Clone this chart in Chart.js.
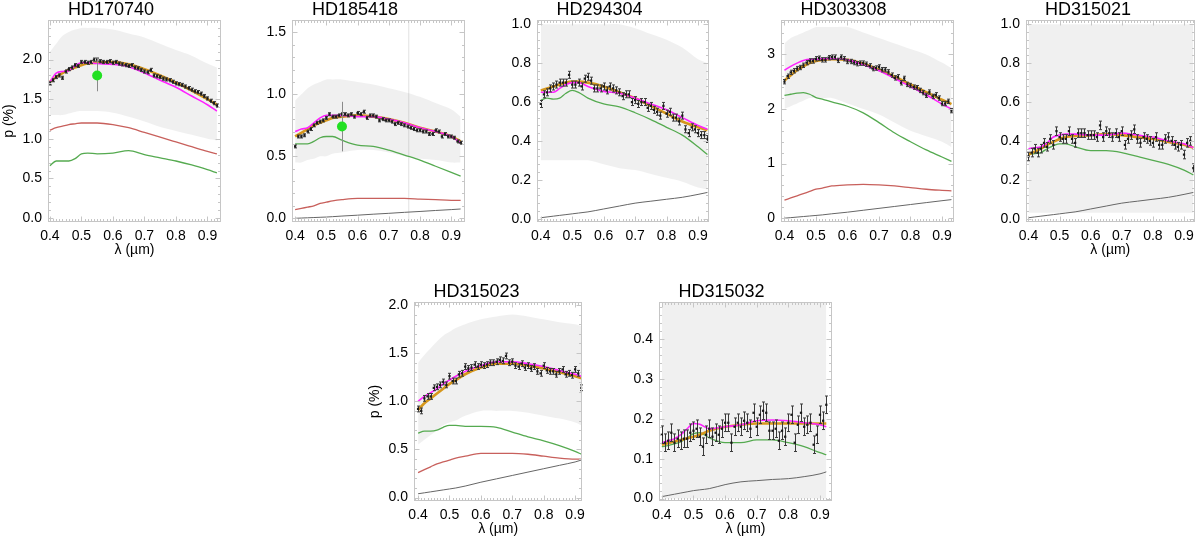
<!DOCTYPE html>
<html><head><meta charset="utf-8">
<script src="https://cdn.jsdelivr.net/npm/chart.js@4.4.1/dist/chart.umd.min.js"></script>
<style>
html,body{margin:0;padding:0;background:#fff;}
body{width:1200px;height:542px;overflow:hidden;position:relative;}
canvas{position:absolute;}
</style></head><body>
<script>
// ---------- DATA ----------
// binned wavelengths (µm)
const binWl = [0.40,0.41,0.42,0.43,0.44,0.45,0.46,0.47,0.48,0.49,0.50,0.51,0.52,0.53,0.54,0.55,0.56,0.57,0.58,0.59,
  0.60,0.61,0.62,0.63,0.64,0.65,0.66,0.67,0.68,0.69,0.70,0.71,0.72,0.73,0.74,0.75,0.76,0.77,0.78,0.79,
  0.80,0.81,0.82,0.83,0.84,0.85,0.86,0.87,0.88,0.89,0.90,0.91,0.92,0.93];
// model-curve wavelengths (µm)
const modelWl   = [0.40,0.42,0.44,0.46,0.48,0.50,0.52,0.55,0.60,0.65,0.70,0.75,0.80,0.85,0.90,0.93];
const modelWl92 = [0.40,0.42,0.44,0.46,0.48,0.50,0.52,0.55,0.60,0.65,0.70,0.75,0.80,0.85,0.90,0.92];
const xTickVals = [0.4,0.5,0.6,0.7,0.8,0.9];

// HD170740
const hd170740_bin = [1.70,1.74,1.78,1.80,1.77,1.85,1.88,1.90,1.93,1.92,1.97,1.97,1.96,1.97,2.00,2.00,1.98,1.97,1.97,1.98,
  1.96,1.97,1.95,1.94,1.93,1.92,1.93,1.90,1.89,1.87,1.85,1.84,1.87,1.80,1.79,1.78,1.76,1.75,1.74,1.72,
  1.70,1.69,1.68,1.66,1.64,1.62,1.60,1.59,1.57,1.54,1.51,1.48,1.45,1.42];
const hd170740_err = 0.02;
const hd170740_magenta = [1.72,1.83,1.85,1.86,1.92,1.96,1.96,1.95,1.94,1.91,1.83,1.74,1.65,1.54,1.43,1.35];
const hd170740_orange  = [1.72,1.78,1.83,1.87,1.90,1.93,1.95,1.96,1.97,1.94,1.88,1.80,1.71,1.61,1.50,1.43];
const hd170740_red     = [1.11,1.14,1.16,1.18,1.19,1.20,1.20,1.20,1.18,1.14,1.08,1.02,0.96,0.90,0.84,0.81];
const hd170740_green   = [0.66,0.72,0.72,0.72,0.75,0.81,0.82,0.81,0.82,0.85,0.80,0.76,0.72,0.67,0.61,0.57];
const hd170740_noiseLo = [1.30,1.30,1.30,1.32,1.34,1.35,1.35,1.35,1.33,1.28,1.22,1.15,1.10,1.05,1.00,0.98];
const hd170740_noiseHi = [2.10,2.20,2.30,2.35,2.38,2.40,2.40,2.40,2.38,2.33,2.28,2.20,2.12,2.05,1.95,1.90];
const hd170740_dot = {x:[0.55], y:[1.80], lo:[1.60], hi:[2.02]};

// HD185418
const hd185418_bin = [0.58,0.66,0.66,0.67,0.70,0.72,0.75,0.77,0.78,0.79,0.81,0.84,0.82,0.82,0.83,0.84,0.84,0.83,0.84,0.82,
  0.85,0.84,0.86,0.81,0.83,0.83,0.82,0.79,0.80,0.79,0.79,0.78,0.76,0.77,0.76,0.75,0.74,0.73,0.72,0.71,
  0.71,0.70,0.70,0.68,0.68,0.71,0.70,0.66,0.68,0.66,0.66,0.65,0.62,0.61];
const hd185418_err = 0.012;
const hd185418_magenta = [0.70,0.72,0.73,0.77,0.81,0.83,0.83,0.83,0.82,0.82,0.80,0.77,0.73,0.70,0.66,0.61];
const hd185418_orange  = [0.66,0.69,0.72,0.75,0.77,0.79,0.81,0.82,0.83,0.82,0.80,0.77,0.73,0.70,0.66,0.62];
const hd185418_green   = [0.60,0.60,0.60,0.62,0.65,0.66,0.66,0.63,0.59,0.58,0.55,0.51,0.47,0.42,0.37,0.34];
const hd185418_red     = [0.07,0.08,0.09,0.10,0.12,0.13,0.14,0.15,0.16,0.16,0.16,0.16,0.155,0.15,0.145,0.145];
const hd185418_gray    = [0.0,0.002,0.004,0.006,0.008,0.01,0.013,0.018,0.025,0.033,0.04,0.048,0.055,0.063,0.07,0.075];
const hd185418_noiseLo = [0.45,0.45,0.47,0.48,0.50,0.50,0.52,0.53,0.55,0.55,0.53,0.50,0.48,0.47,0.45,0.45];
const hd185418_noiseHi = [0.95,1.00,1.05,1.08,1.10,1.12,1.12,1.12,1.10,1.08,1.05,1.02,0.98,0.93,0.88,0.82];
const hd185418_dot = {x:[0.55], y:[0.74], lo:[0.54], hi:[0.94]};
const hd185418_spike = {x:[0.764,0.764], y:[-0.03,1.6]};

// HD294304
const hd294304_bin = [0.59,0.64,0.65,0.67,0.68,0.69,0.70,0.70,0.70,0.74,0.69,0.69,0.70,0.68,0.72,0.73,0.71,0.67,0.67,0.67,
  0.68,0.66,0.68,0.67,0.66,0.65,0.63,0.64,0.64,0.60,0.61,0.59,0.60,0.60,0.57,0.58,0.56,0.55,0.53,0.58,
  0.54,0.55,0.52,0.52,0.50,0.53,0.46,0.44,0.47,0.46,0.44,0.43,0.43,0.41];
const hd294304_err = 0.018;
const hd294304_magenta = [0.65,0.65,0.65,0.67,0.69,0.70,0.70,0.68,0.655,0.645,0.62,0.59,0.56,0.52,0.48,0.46];
const hd294304_orange  = [0.66,0.67,0.68,0.69,0.70,0.705,0.705,0.70,0.68,0.65,0.62,0.58,0.54,0.50,0.47,0.455];
const hd294304_green   = [0.61,0.62,0.615,0.62,0.645,0.66,0.65,0.62,0.59,0.575,0.545,0.51,0.47,0.43,0.37,0.33];
const hd294304_gray    = [0.005,0.009,0.013,0.017,0.021,0.025,0.029,0.035,0.05,0.065,0.08,0.09,0.10,0.11,0.125,0.135];
const hd294304_noiseLo = [0.30,0.30,0.30,0.30,0.30,0.30,0.30,0.30,0.28,0.26,0.25,0.23,0.21,0.19,0.16,0.15];
const hd294304_noiseHi = [1.00,1.00,1.00,1.00,1.00,1.00,1.00,1.00,1.00,1.00,0.98,0.95,0.92,0.88,0.82,0.80];

// HD303308
const hd303308_bin = [2.50,2.60,2.67,2.70,2.74,2.76,2.80,2.85,2.88,2.88,2.92,2.93,2.90,2.90,2.94,2.95,2.95,2.89,2.95,2.92,
  2.87,2.87,2.85,2.83,2.84,2.84,2.82,2.79,2.74,2.75,2.77,2.72,2.72,2.68,2.62,2.57,2.59,2.48,2.56,2.45,
  2.43,2.40,2.39,2.34,2.30,2.25,2.31,2.23,2.26,2.20,2.10,2.10,2.14,1.97];
const hd303308_err = 0.04;
const hd303308_magenta = [2.71,2.78,2.84,2.89,2.91,2.91,2.92,2.92,2.90,2.81,2.70,2.56,2.41,2.26,2.09,2.00];
const hd303308_orange  = [2.52,2.62,2.71,2.78,2.84,2.88,2.90,2.91,2.90,2.83,2.72,2.59,2.45,2.31,2.17,2.09];
const hd303308_green   = [2.25,2.27,2.29,2.30,2.27,2.21,2.18,2.13,2.05,1.93,1.75,1.56,1.40,1.25,1.12,1.04];
const hd303308_red     = [0.33,0.37,0.41,0.45,0.49,0.53,0.55,0.59,0.61,0.62,0.61,0.59,0.56,0.53,0.51,0.50];
const hd303308_gray    = [0.0,0.01,0.02,0.03,0.04,0.05,0.06,0.08,0.11,0.145,0.18,0.215,0.25,0.285,0.32,0.34];
const hd303308_noiseLo = [2.00,2.05,2.10,2.15,2.20,2.20,2.20,2.20,2.10,2.00,1.90,1.75,1.60,1.50,1.40,1.30];
const hd303308_noiseHi = [3.20,3.30,3.35,3.40,3.45,3.50,3.50,3.50,3.50,3.40,3.30,3.20,3.10,3.00,2.85,2.75];

// HD315021
const hd315021_bin = [0.32,0.34,0.36,0.34,0.36,0.39,0.37,0.41,0.38,0.45,0.42,0.41,0.41,0.45,0.41,0.39,0.44,0.44,0.44,0.43,
  0.43,0.43,0.42,0.48,0.42,0.45,0.44,0.42,0.44,0.42,0.45,0.38,0.41,0.43,0.46,0.41,0.39,0.42,0.41,0.40,
  0.39,0.42,0.38,0.38,0.41,0.42,0.40,0.38,0.37,0.38,0.33,0.39,0.40,0.26];
const hd315021_err = 0.022;
const hd315021_magenta = [0.36,0.365,0.37,0.39,0.42,0.43,0.435,0.435,0.43,0.43,0.44,0.43,0.42,0.40,0.385,0.365];
const hd315021_orange  = [0.33,0.345,0.36,0.38,0.395,0.41,0.42,0.425,0.43,0.435,0.43,0.42,0.41,0.395,0.38,0.365];
const hd315021_green   = [0.33,0.335,0.34,0.36,0.375,0.385,0.385,0.37,0.35,0.35,0.34,0.32,0.30,0.28,0.25,0.225];
const hd315021_gray    = [0.005,0.009,0.013,0.017,0.021,0.025,0.029,0.035,0.05,0.065,0.08,0.09,0.10,0.11,0.125,0.135];
const hd315021_noiseLo = [0.03,0.03,0.03,0.03,0.03,0.03,0.03,0.03,0.03,0.03,0.03,0.03,0.03,0.03,0.03,0.03];
const hd315021_noiseHi = [1.00,1.00,1.00,1.00,1.00,1.00,1.00,1.00,1.00,1.00,1.00,1.00,1.00,1.00,1.00,1.00];

// HD315023
const hd315023_bin = [0.92,0.90,1.03,1.05,1.05,1.14,1.15,1.17,1.20,1.17,1.26,1.21,1.21,1.28,1.29,1.36,1.34,1.35,1.38,1.36,
  1.38,1.37,1.38,1.40,1.40,1.41,1.43,1.42,1.47,1.40,1.41,1.37,1.36,1.39,1.35,1.37,1.34,1.36,1.31,1.29,
  1.37,1.32,1.31,1.31,1.28,1.31,1.33,1.28,1.29,1.27,1.33,1.29,1.14];
const hd315023_err = 0.03;
const hd315023_magenta = [1.00,1.05,1.09,1.13,1.18,1.22,1.26,1.31,1.37,1.41,1.41,1.39,1.36,1.32,1.28,1.26];
const hd315023_orange  = [0.91,0.98,1.03,1.08,1.13,1.18,1.22,1.28,1.35,1.39,1.39,1.37,1.34,1.30,1.26,1.24];
const hd315023_green   = [0.67,0.69,0.69,0.70,0.73,0.75,0.75,0.74,0.74,0.73,0.68,0.63,0.59,0.54,0.48,0.45];
const hd315023_red     = [0.26,0.29,0.32,0.35,0.37,0.39,0.41,0.43,0.46,0.46,0.46,0.45,0.43,0.41,0.40,0.40];
const hd315023_gray    = [0.04,0.05,0.06,0.07,0.08,0.09,0.10,0.12,0.16,0.195,0.23,0.265,0.30,0.335,0.37,0.39];
const hd315023_noiseLo = [0.55,0.60,0.65,0.70,0.75,0.78,0.80,0.85,0.90,0.90,0.90,0.88,0.85,0.82,0.78,0.75];
const hd315023_noiseHi = [1.40,1.48,1.55,1.62,1.68,1.72,1.76,1.80,1.85,1.88,1.90,1.88,1.85,1.82,1.80,1.78];

// HD315032
const hd315032_bin = [0.16,0.14,0.145,0.165,0.14,0.15,0.145,0.15,0.15,0.165,0.17,0.175,0.155,0.13,0.16,0.175,0.155,0.165,0.16,0.175,
  0.19,0.19,0.14,0.18,0.19,0.18,0.195,0.19,0.175,0.215,0.18,0.21,0.22,0.215,0.17,0.17,0.175,0.145,0.17,0.155,
  0.19,0.21,0.14,0.185,0.215,0.18,0.185,0.19,0.135,0.16,0.21,0.195,0.235];
const hd315032_err = 0.022;
const hd315032_magenta = [0.14,0.145,0.15,0.16,0.175,0.188,0.186,0.175,0.18,0.185,0.195,0.197,0.195,0.19,0.185,0.18];
const hd315032_orange  = [0.135,0.139,0.143,0.147,0.151,0.155,0.16,0.17,0.18,0.185,0.188,0.188,0.188,0.188,0.188,0.188];
const hd315032_green   = [0.13,0.133,0.137,0.142,0.152,0.163,0.165,0.152,0.14,0.14,0.147,0.147,0.14,0.13,0.115,0.11];
const hd315032_gray    = [0.005,0.008,0.011,0.014,0.017,0.02,0.022,0.025,0.035,0.042,0.045,0.048,0.05,0.055,0.062,0.067];
const hd315032_noiseLo = [0,0,0,0,0,0,0,0,0,0,0,0,0,0,0,0];
const hd315032_noiseHi = [0.49,0.49,0.49,0.49,0.49,0.49,0.49,0.49,0.49,0.49,0.49,0.49,0.49,0.49,0.49,0.49];

// y tick labels
const yTicks_hd170740 = [0.0,0.5,1.0,1.5,2.0];
const yTicks_hd185418 = [0.0,0.5,1.0,1.5];
const yTicks_hd294304 = [0.0,0.2,0.4,0.6,0.8,1.0];
const yTicks_hd303308 = [0,1,2,3];
const yTicks_hd315021 = [0.0,0.2,0.4,0.6,0.8,1.0];
const yTicks_hd315023 = [0.0,0.5,1.0,1.5,2.0];
const yTicks_hd315032 = [0.0,0.1,0.2,0.3,0.4];

// ---------- LAYOUT / STYLE ----------
const FONT = "'Liberation Sans', Arial, Helvetica, sans-serif";
const TITLE_H = 22, YW = 48, XH = 37;
const C = {magenta:'#ff22ff', orange:'#d6971c', red:'#c8605c', green:'#55aa50', gray:'#666666',
           noise:'rgba(0,0,0,0.058)', pts:'#1a1a1a', err:'#3a3a3a', dot:'#22e022'};

const panels = [
 {name:'HD170740', box:[48,20,222,222], x:[0.394,0.943], y:[-0.05,2.5], yt:yTicks_hd170740, fmt:1, ylab:true, xlab:true,
  wl:modelWl, bin:hd170740_bin, err:hd170740_err, mag:hd170740_magenta, ora:hd170740_orange, red:hd170740_red, grn:hd170740_green, gry:null,
  lo:hd170740_noiseLo, hi:hd170740_noiseHi, dot:hd170740_dot},
 {name:'HD185418', box:[292,20,466,222], x:[0.39,0.944], y:[-0.03,1.6], yt:yTicks_hd185418, fmt:1, ylab:false, xlab:false,
  wl:modelWl, bin:hd185418_bin, err:hd185418_err, mag:hd185418_magenta, ora:hd185418_orange, red:hd185418_red, grn:hd185418_green, gry:hd185418_gray,
  lo:hd185418_noiseLo, hi:hd185418_noiseHi, dot:hd185418_dot, spike:hd185418_spike},
 {name:'HD294304', box:[537,20,710,222], x:[0.388,0.934], y:[-0.017,1.022], yt:yTicks_hd294304, fmt:1, ylab:false, xlab:false,
  wl:modelWl, bin:hd294304_bin, err:hd294304_err, mag:hd294304_magenta, ora:hd294304_orange, red:null, grn:hd294304_green, gry:hd294304_gray,
  lo:hd294304_noiseLo, hi:hd294304_noiseHi},
 {name:'HD303308', box:[781,20,954,222], x:[0.389,0.937], y:[-0.07,3.63], yt:yTicks_hd303308, fmt:0, ylab:false, xlab:false,
  wl:modelWl, bin:hd303308_bin, err:hd303308_err, mag:hd303308_magenta, ora:hd303308_orange, red:hd303308_red, grn:hd303308_green, gry:hd303308_gray,
  lo:hd303308_noiseLo, hi:hd303308_noiseHi},
 {name:'HD315021', box:[1026,20,1198,222], x:[0.392,0.934], y:[-0.017,1.022], yt:yTicks_hd315021, fmt:1, ylab:false, xlab:true, padR:2,
  wl:modelWl, bin:hd315021_bin, err:hd315021_err, mag:hd315021_magenta, ora:hd315021_orange, red:null, grn:hd315021_green, gry:hd315021_gray,
  lo:hd315021_noiseLo, hi:hd315021_noiseHi},
 {name:'HD315023', box:[414,302,587,501], x:[0.387,0.923], y:[-0.035,2.03], yt:yTicks_hd315023, fmt:1, ylab:true, xlab:true,
  wl:modelWl92, bin:hd315023_bin, err:hd315023_err, mag:hd315023_magenta, ora:hd315023_orange, red:hd315023_red, grn:hd315023_green, gry:hd315023_gray,
  lo:hd315023_noiseLo, hi:hd315023_noiseHi},
 {name:'HD315032', box:[659,302,832,501], x:[0.391,0.938], y:[-0.006,0.4925], yt:yTicks_hd315032, fmt:1, ylab:false, xlab:true,
  wl:modelWl92, bin:hd315032_bin, err:hd315032_err, mag:hd315032_magenta, ora:hd315032_orange, red:null, grn:hd315032_green, gry:hd315032_gray,
  lo:hd315032_noiseLo, hi:hd315032_noiseHi}
];

// ---------- PLUGINS ----------
const errorBars = {
  id:'errorBars',
  beforeDatasetDraw(chart, args){
    const ds = chart.data.datasets[args.index];
    if(!ds.errLo) return;
    const {ctx, scales:{x,y}} = chart;
    ctx.save();
    ctx.strokeStyle = ds.errColor; ctx.lineWidth = 1;
    ds.data.forEach((p,j)=>{
      const px = Math.round(x.getPixelForValue(p.x)) + 0.5;
      const y1 = y.getPixelForValue(ds.errLo[j]), y2 = y.getPixelForValue(ds.errHi[j]);
      ctx.beginPath(); ctx.moveTo(px,y1); ctx.lineTo(px,y2);
      if(ds.cap){ ctx.moveTo(px-ds.cap,y1); ctx.lineTo(px+ds.cap,y1); ctx.moveTo(px-ds.cap,y2); ctx.lineTo(px+ds.cap,y2); }
      ctx.stroke();
    });
    ctx.restore();
  }
};
const frame = {
  id:'frame',
  afterDraw(chart){
    const {ctx, chartArea:a, scales:{x,y}} = chart;
    const L = Math.round(a.left)+0.5, R = Math.round(a.right)-0.5, T = Math.round(a.top)+0.5, B = Math.round(a.bottom)-0.5;
    ctx.save();
    ctx.strokeStyle = '#c6c6c6'; ctx.lineWidth = 1;
    ctx.strokeRect(L, T, R-L, B-T);
    ctx.beginPath();
    const xt = x.ticks.map(t=>t.value), xs = (xt[1]-xt[0])/10;
    for(let k = Math.ceil((x.min-xt[0])/xs); xt[0]+k*xs <= x.max; k++){
      const v = xt[0]+k*xs, len = (k%10===0)?5:2.5;
      const px = Math.round(x.getPixelForValue(v))+0.5;
      ctx.moveTo(px,B); ctx.lineTo(px,B-len); ctx.moveTo(px,T); ctx.lineTo(px,T+len);
    }
    const yt = y.ticks.map(t=>t.value), ys = (yt[1]-yt[0])/5;
    for(let k = Math.ceil((y.min-yt[0])/ys); yt[0]+k*ys <= y.max; k++){
      const v = yt[0]+k*ys, len = (k%5===0)?5:2.5;
      const py = Math.round(y.getPixelForValue(v))+0.5;
      ctx.moveTo(L,py); ctx.lineTo(L+len,py); ctx.moveTo(R,py); ctx.lineTo(R-len,py);
    }
    ctx.stroke();
    ctx.restore();
  }
};

// ---------- BUILD ----------
const pairs = (xs, ys) => ys.map((v,i)=>({x:xs[i], y:v}));
const lineDs = (xs, ys, color, w, order) => ({data:pairs(xs,ys), showLine:true, borderColor:color, borderWidth:w,
   pointRadius:0, fill:false, tension:0.4, cubicInterpolationMode:'monotone', order});

panels.forEach(p=>{
  const [L,T,R,B] = p.box;
  const padR = p.padR ?? 4;
  const cw = YW + (R-L) + padR, ch = TITLE_H + (B-T) + XH;
  const cv = document.createElement('canvas');
  cv.width = cw; cv.height = ch;
  cv.style.left = (L-YW)+'px'; cv.style.top = (T-TITLE_H)+'px';
  cv.style.width = cw+'px'; cv.style.height = ch+'px';
  document.body.appendChild(cv);

  const ds = [];
  ds.push({data:pairs(p.wl,p.lo), showLine:true, borderWidth:0, borderColor:'rgba(0,0,0,0)', pointRadius:0, fill:false, tension:0.3, order:20});
  ds.push({data:pairs(p.wl,p.hi), showLine:true, borderWidth:0, borderColor:'rgba(0,0,0,0)', pointRadius:0, fill:'-1', backgroundColor:C.noise, tension:0.3, order:19});
  if(p.spike) ds.push({data:pairs(p.spike.x,p.spike.y), showLine:true, borderColor:'rgba(0,0,0,0.12)', borderWidth:1, pointRadius:0, order:18});
  if(p.gry) ds.push(lineDs(p.wl,p.gry,C.gray,1,8));
  if(p.red) ds.push(lineDs(p.wl,p.red,C.red,1.3,7));
  if(p.grn) ds.push(lineDs(p.wl,p.grn,C.green,1.3,6));
  ds.push(lineDs(p.wl,p.ora,C.orange,2.6,5));
  ds.push(lineDs(p.wl,p.mag,C.magenta,1.6,4));
  const bins = pairs(binWl, p.bin);
  ds.push({data:bins, pointStyle:'rect', pointRadius:1.6, pointBackgroundColor:C.pts, pointBorderWidth:0, showLine:false, order:1,
           errLo:p.bin.map(v=>v-p.err), errHi:p.bin.map(v=>v+p.err), errColor:C.err, cap:1.5});
  if(p.dot) ds.push({data:pairs(p.dot.x,p.dot.y), pointStyle:'circle', pointRadius:5, pointBackgroundColor:C.dot, pointBorderWidth:0,
           showLine:false, order:0, errLo:p.dot.lo, errHi:p.dot.hi, errColor:'#8a8a8a', cap:0});

  const tickFont = {family:FONT, size:14};
  new Chart(cv, {
    type:'scatter',
    data:{datasets:ds},
    plugins:[errorBars, frame],
    options:{
      responsive:false, animation:false, devicePixelRatio:1, events:[],
      layout:{padding:{left:0,right:padR,top:0,bottom:0}},
      plugins:{legend:{display:false}, tooltip:{enabled:false},
        title:{display:true, text:p.name, color:'#000', font:{family:FONT,size:18,weight:'normal',lineHeight:1.0}, padding:{top:3.2,bottom:0.8}}},
      scales:{
        x:{type:'linear', min:p.x[0], max:p.x[1],
          afterBuildTicks:s=>{ s.ticks = xTickVals.map(v=>({value:v})); },
          afterFit:s=>{ s.height = XH; },
          grid:{display:false, drawTicks:false}, border:{display:false},
          ticks:{padding:6, color:'#000', font:tickFont, autoSkip:false, maxRotation:0, callback:v=>v.toFixed(1)},
          title:{display:p.xlab, text:'λ (µm)', color:'#000', font:tickFont, padding:0}},
        y:{type:'linear', min:p.y[0], max:p.y[1],
          afterBuildTicks:s=>{ s.ticks = p.yt.map(v=>({value:v})); },
          afterFit:s=>{ s.width = YW; },
          grid:{display:false, drawTicks:false}, border:{display:false},
          ticks:{padding:6, color:'#000', font:tickFont, autoSkip:false, callback:v=>v.toFixed(p.fmt)},
          title:{display:p.ylab, text:'p (%)', color:'#000', font:tickFont, padding:{top:1,bottom:0}}}
      }
    }
  });
});
</script>
</body></html>
